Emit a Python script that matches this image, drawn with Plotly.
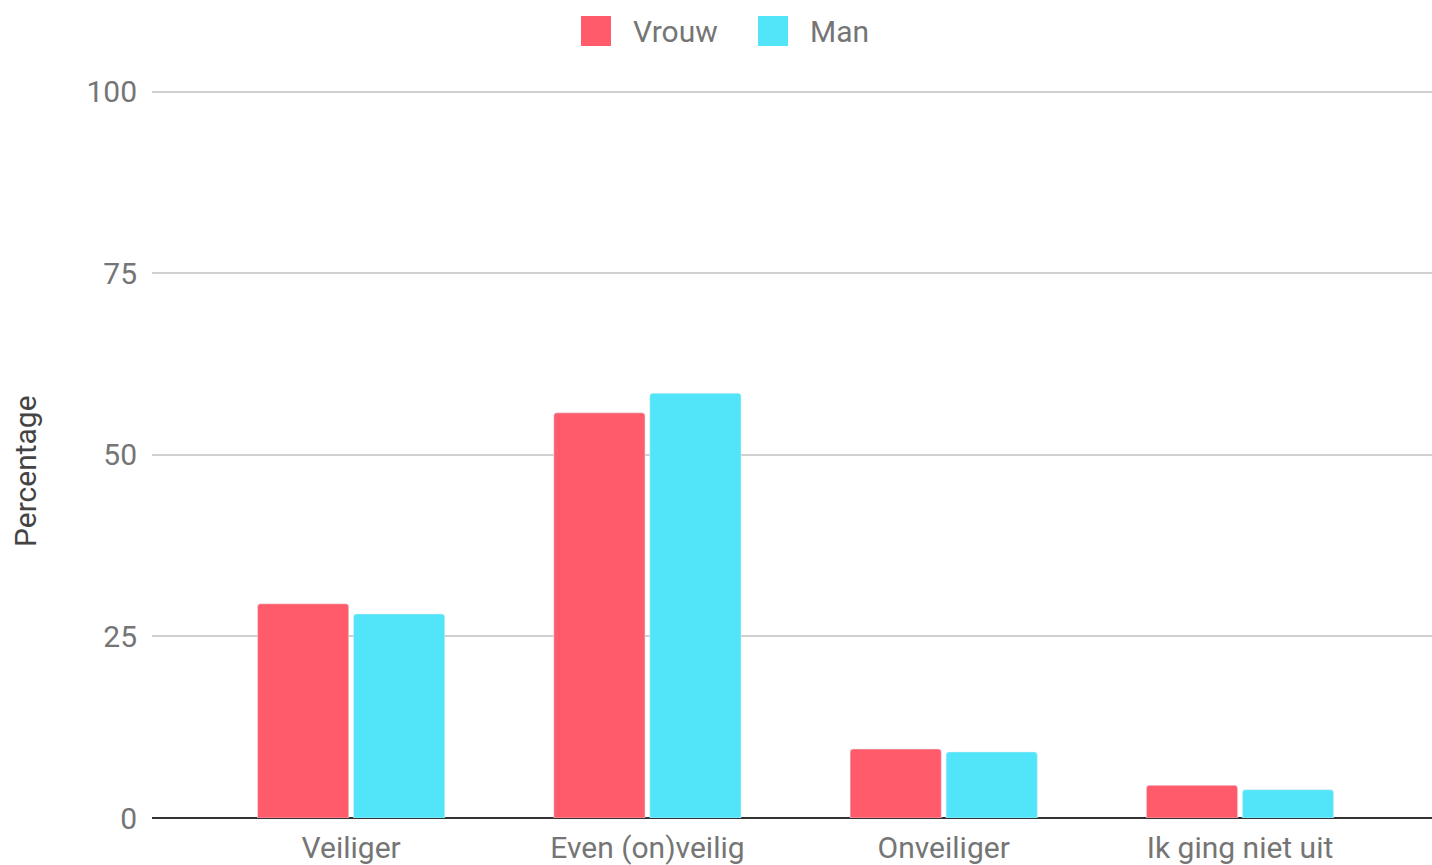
import plotly.graph_objects as go

categories = ['Veiliger', 'Even (on)veilig', 'Onveiliger', 'Ik ging niet uit']
vrouw = [29.5, 55.8, 9.5, 4.5]
man = [28.1, 58.5, 9.1, 3.9]
y_ticks = [0, 25, 50, 75, 100]

RED = '#FF5B6B'
CYAN = '#52E5FA'
FONT = 'Roboto'
GREY = '#757575'
FS = 30
W, H = 1432, 865
ML, MR, MT, MB = 152, 0, 89, 47

fig = go.Figure()
fig.add_trace(go.Bar(x=categories, y=vrouw, name='Vrouw', marker_color=RED, showlegend=False))
fig.add_trace(go.Bar(x=categories, y=man, name='Man', marker_color=CYAN, showlegend=False))

fig.update_layout(
    width=W, height=H,
    margin=dict(l=ML, r=MR, t=MT, b=MB, pad=0),
    paper_bgcolor='white', plot_bgcolor='white',
    font=dict(family=FONT, size=FS, color=GREY),
    barmode='group', bargap=0.352, bargroupgap=0.05, barcornerradius=3,
)
fig.update_xaxes(range=[-0.672, 3.648], showgrid=False, showline=False, ticks='',
                 tickfont=dict(size=FS, color=GREY), ticklabelstandoff=9)
fig.update_yaxes(range=[0, 100.4], tickvals=y_ticks, showgrid=True, gridcolor='#D0D0D0', gridwidth=2,
                 zeroline=True, zerolinecolor='#333333', zerolinewidth=2,
                 tickfont=dict(size=FS, color=GREY), ticklabelstandoff=14)

# legend and axis title drawn by hand so they sit where the reference has them
ph = H - MT - MB
pw = W - ML - MR
def px(x):
    return (x - ML) / pw
def py(y):
    return (H - MB - y) / ph

legend = [('Vrouw', RED, 581, 631), ('Man', CYAN, 758, 808)]
for name, color, sx, tx in legend:
    fig.add_shape(type='rect', xref='paper', yref='paper',
                  x0=px(sx), x1=px(sx + 30), y0=py(46), y1=py(16),
                  fillcolor=color, line=dict(width=0))
    fig.add_annotation(xref='paper', yref='paper', x=px(tx), y=py(31), text=name,
                       showarrow=False, xanchor='left', yanchor='middle',
                       font=dict(size=FS, color=GREY))

fig.add_annotation(xref='paper', yref='paper', x=px(25), y=py(471), text='Percentage',
                   textangle=-90, showarrow=False, xanchor='center', yanchor='middle',
                   font=dict(size=FS, color='#444444'))

fig.write_html('out.html', config={'displayModeBar': False},
               post_script="document.body.style.margin='0';")
